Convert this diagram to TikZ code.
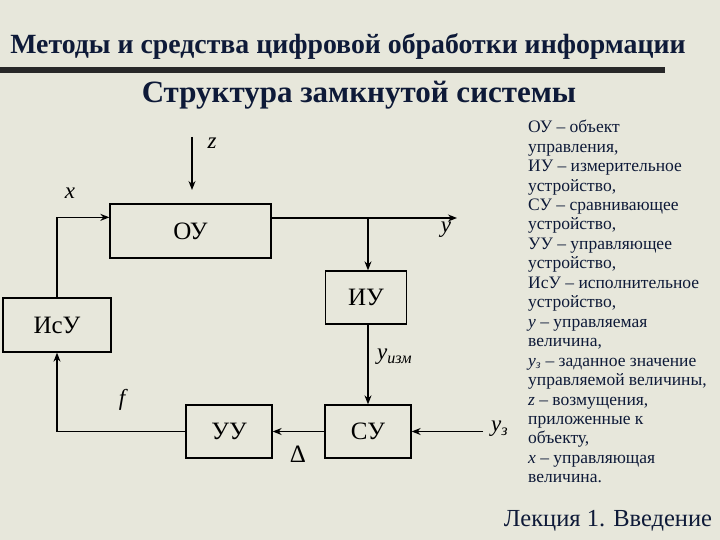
\documentclass[tikz,border=0pt]{standalone}
\usepackage{fontspec}
\setmainfont{Liberation Serif}[
    UprightFont={Liberation Serif},
    BoldFont={Liberation Serif Bold},
    ItalicFont={Liberation Serif Italic},
    BoldItalicFont={Liberation Serif Bold Italic}]
\usetikzlibrary{arrows.meta,calc}
\definecolor{bgpaper}{RGB}{231,231,219}
\definecolor{navy}{RGB}{14,26,56}
\definecolor{bardark}{RGB}{40,40,40}

\begin{document}
\begin{tikzpicture}[
    x=1pt, y=-1pt,
    box/.style={rectangle, draw, line width=1.3pt, inner sep=0pt, font=\fontsize{25}{27}\selectfont},
    arrow/.style={-{Stealth[length=9pt,width=7pt]}, line width=1.3pt},
    lbl/.style={inner sep=0pt, font=\fontsize{23}{25}\selectfont\itshape},
    legend/.style={align=left, anchor=north west, inner sep=0pt, text=navy, font=\fontsize{17.5}{19.45}\selectfont}
]

% Background
\fill[bgpaper] (0,0) rectangle (720,540);
\useasboundingbox (0,0) rectangle (720,540);

% Heading
\node[text=navy, font=\fontsize{27.8}{30}\selectfont\bfseries] (heading) at (348,47) {Методы и средства цифровой обработки информации};
\fill[bardark] (0,67) rectangle (665,73);
\node[text=navy, font=\fontsize{31}{33}\selectfont\bfseries] (subtitle) at (359,95) {Структура замкнутой системы};

% Blocks
\node[box, minimum width=161pt, minimum height=54pt] (ou) at (190.5,231) {ОУ};
\node[box, minimum width=81pt, minimum height=53pt] (iu) at (366,297.5) {ИУ};
\node[box, minimum width=108pt, minimum height=54pt] (isu) at (57,325) {ИсУ};
\node[box, minimum width=86pt, minimum height=53pt] (su) at (368,431.5) {СУ};
\node[box, minimum width=86pt, minimum height=53pt] (uu) at (229,431.5) {УУ};

% Helper points
\coordinate (zin) at (192,137);
\coordinate (xin) at ($(ou.north west)+(0,14)$);
\coordinate (yout) at (457,218);
\coordinate (tap) at (368,218);
\coordinate (yzin) at (483,431.5);

% Labels
\node[lbl] (zlbl) at (212,143) {z};
\node[lbl] (xlbl) at (70,193) {x};
\node[lbl] (ylbl) at (446,230) {y};
\node[lbl, anchor=west] (yizm) at (377,357) {y\textsubscript{изм}};
\node[lbl] (flbl) at (122,400) {f};
\node[lbl, anchor=west] (yzlbl) at (491,429) {y\textsubscript{з}};
\node[inner sep=0pt, font=\fontsize{25}{27}\selectfont] (delta) at (298,454) {Δ};

% Arrows
\draw[arrow] (zin) -- ++(0,53);
\draw[arrow] (isu.north) -- (isu.north |- xin) -- (xin);
\draw[arrow] (ou.east |- yout) -- (yout);
\draw[arrow] (tap) -- (tap |- iu.north);
\draw[arrow] (tap |- iu.south) -- (su.north);
\draw[arrow] (yzin) -- (su.east);
\draw[arrow] (su.west) -- (uu.east);
\draw[arrow] (uu.west) -- (uu.west -| isu.north) -- (isu.south);

% Legend
\node[legend] (legend) at (528,120) {ОУ – объект\\управления,\\ИУ – измерительное\\устройство,\\СУ – сравнивающее\\устройство,\\УУ – управляющее\\устройство,\\ИсУ – исполнительное\\устройство,\\\textit{y} – управляемая\\величина,\\\textit{y}\textsubscript{\textit{з}} – заданное значение\\управляемой величины,\\\textit{z} – возмущения,\\приложенные к\\объекту,\\\textit{x} – управляющая\\величина.};

% Footer
\node[font=\fontsize{24.5}{26}\selectfont, text=navy] (footer) at (608,521) {Лекция 1. Введение};

\end{tikzpicture}
\end{document}
